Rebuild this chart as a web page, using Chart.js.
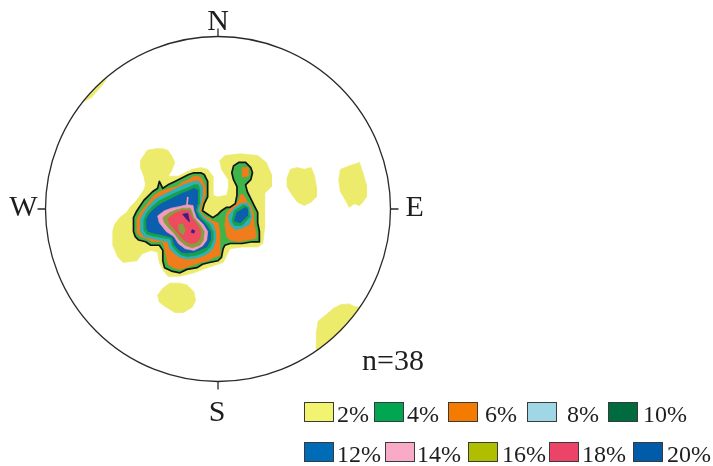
<!DOCTYPE html>
<html>
<head>
<meta charset="utf-8">
<script src="https://cdn.jsdelivr.net/npm/chart.js@4.4.1/dist/chart.umd.min.js"></script>
<style>
  html, body { margin: 0; padding: 0; background: #ffffff; }
  canvas { display: block; }
</style>
</head>
<body>
<canvas id="net" width="713" height="466"></canvas>
<script>
// Pole density contours on an equal-area net (primitive circle radius = 100 units)
const levelLabels = ['2%', '4%', '6%', '8%', '10%', '12%', '14%', '16%', '18%', '20%'];
const sampleCount = 38;

// colours used inside the net, and the key swatches
const fillColors = ['#eceb6c', '#3db54a', '#f07c1c', '#2cb3b6', '#17a04c',
                    '#0c5fae', '#f29bbd', '#8c9a40', '#ee4a60', '#3b1d8e'];
const keyColors  = ['#f2f36e', '#00a650', '#f47a00', '#a0d7e6', '#006b3f',
                    '#006cb8', '#f9aac6', '#afbf00', '#ec4468', '#005ba9'];

// 2% contours
const level2Main = [[-61,-13],[-60,-9],[-57,-5],[-53,-2],[-51,1],[-48,4],[-45,8],[-43,11],[-42,14],[-43,19],[-45,24],[-45,28],[-43,31],[-41,34],[-36,35],[-32,35],[-29,34],[-27,31],[-25,27],[-27,22],[-29,19],[-23,19],[-19,21],[-15,23],[-10,24],[-6,23],[-3,19],[-3,14],[-3,8],[0,7],[5,8],[6,12],[6,17],[2,23],[1,28],[4,31],[13,32],[23,31],[28,27],[31,20],[31,13],[27,9],[27,-1],[27,-11],[26,-20],[23,-22],[14,-22],[7,-23],[5,-27],[3,-31],[0,-32],[-6,-34],[-14,-37],[-22,-39],[-29,-39],[-32,-35],[-34,-31],[-35,-25],[-39,-24],[-44,-26],[-47,-30],[-55,-31],[-58,-28],[-61,-21]];
const level2East1 = [[42,23],[46,24],[50,23],[54,24],[56,19],[57,13],[57,7],[54,4],[50,2],[46,4],[43,8],[40,13],[40,18]];
const level2East2 = [[71,23],[76,25],[82,27],[84,21],[86,14],[86,7],[84,4],[82,2],[79,3],[76,1],[74,5],[71,10],[70,17]];
const level2South = [[-32,-46],[-28,-43],[-22,-43],[-18,-44],[-14,-48],[-13,-53],[-15,-57],[-20,-60],[-25,-60],[-30,-57],[-34,-54],[-35,-50]];
const level2RimSE = [[57,-83],[57,-72],[58,-65],[63,-61],[67,-57.5],[71,-55.5],[76,-55],[79,-56.5],[90,-58],[74,-90],[59,-88]];
const level2RimNW = [[-84,62],[-78,70],[-70,80],[-63,79],[-63.8,77],[-66.5,72.5],[-70,68.5],[-73.5,64.5],[-78.5,62]];

// 4% contour (outlined)
const level4Main = [[-49,-13],[-49,-5],[-47,-1],[-43,5],[-38,10],[-35,12],[-34,16],[-32,12],[-29,14],[-25,16],[-21,18],[-17,20],[-14,21],[-10,21],[-8,20],[-6,16],[-6,11],[-6,7],[-8,3],[-9,-1],[-6,-3],[-3,-5],[0,-3],[2,-1],[5,1],[7,1],[10,3],[11,8],[11,13],[9,17],[8,21],[9,25],[12,27],[16,27],[19,24],[20,21],[19,17],[16,14],[17,10],[19,6],[21,2],[23,-2],[23,-8],[24,-13],[24,-19],[20,-19],[14,-20],[11,-20],[7,-20],[4,-21],[3,-23],[2,-28],[0,-30],[-5,-31],[-9,-32],[-12,-34],[-18,-35],[-22,-37],[-27,-36],[-31,-34],[-32,-30],[-32,-24],[-34,-21],[-39,-21],[-42,-19],[-46,-18],[-48,-16]];

// 6% contours
const level6Main = [[-47,-14],[-47,-6],[-45,-2],[-41,3],[-37,8],[-34,10],[-31,11],[-28,12],[-24,13],[-20,16],[-17,17],[-14,19],[-11,19],[-9,17],[-7.5,13],[-7.5,8],[-9,3],[-10,-1],[-8,-4],[-6,-5],[-3,-7],[0,-8],[1,-13],[1,-21],[1,-27],[-2,-28],[-6,-30],[-10,-31],[-13,-32],[-19,-34],[-22,-35],[-26,-34],[-29,-32],[-30,-28],[-31,-23],[-32,-19],[-38,-19],[-42,-17],[-45,-16]];
const level6East = [[5,-2],[7,0],[10.5,2.5],[12,5],[13,8.5],[15,8],[16.5,5],[19,2],[20.5,-2],[21,-9],[22,-14],[22,-17],[17,-18],[12,-19],[7,-18],[5,-16],[4,-9]];
const level6Knob = [[14,24],[17.5,24],[17.5,19],[14,18.5]];

// 8% contours
const level8Main = [[-45,-13],[-45,-6],[-43,-2],[-40,2],[-36,6],[-32,8],[-28,10],[-24,12],[-20,14],[-14,16],[-11,16],[-9,13],[-9,8],[-10,3],[-11,-1],[-8,-5],[-3,-9],[-1.5,-13],[-1.5,-18],[-2.5,-22],[-5,-25],[-8,-27],[-13,-28.5],[-18,-29],[-22,-28],[-25,-26],[-28,-23],[-29,-19],[-34,-18],[-39,-17],[-43,-16]];
const level8East = [[6,-4],[9,0],[13,3],[17,3.5],[18.5,0.5],[19.5,-4.5],[18,-9],[14,-11],[10,-12],[7,-9]];

// 10% contours
const level10Main = [[-43,-12],[-43,-6],[-41,-2],[-38,1.5],[-34.5,4.5],[-30.5,6.5],[-26.5,8.5],[-22,10.5],[-18,12],[-14,14],[-11.5,14],[-10.5,11],[-10.5,7],[-11,3],[-12,-1],[-9.5,-5],[-5,-9],[-3,-13],[-3,-18],[-4.5,-22],[-7,-24.5],[-9,-25.5],[-13,-27],[-18,-27.5],[-21.5,-26.5],[-24,-24.5],[-26.5,-21.5],[-27.5,-17.5],[-33,-16.5],[-38.5,-15.5],[-41.5,-14.5]];
const level10East = [[8,-7],[9.5,-1],[15,2.5],[17.5,1],[18.5,-4.5],[14,-9.5],[9.5,-9.5]];

// 12% contours
const level12Main = [[-41.5,-11],[-41.5,-6],[-39.5,-2.5],[-36.5,0.5],[-33,3],[-29,5],[-25,7],[-21,9],[-17,10.5],[-14,12],[-12,11],[-12,7],[-12,3],[-13,-1],[-11,-5],[-7,-9],[-4.5,-13],[-4.5,-18],[-6.5,-22],[-10,-23.5],[-14,-25],[-18,-25.5],[-21,-25],[-23.5,-23],[-25.5,-20.5],[-26.5,-16.5],[-32,-15],[-37,-14],[-40.5,-13]];
const level12East = [[9.5,-7],[11,-2],[16,1],[17,0],[17,-4],[13,-8]];

// 14% contour and its narrow ridge
const level14Main = [[-35,-4],[-31,-1],[-27,0.5],[-22,1.5],[-18,2.5],[-14.5,2],[-14,-1],[-12.5,-5],[-8.5,-9],[-6,-13],[-6.5,-18],[-9,-21.5],[-14,-24],[-19,-23],[-23,-20],[-25.5,-16],[-30,-13],[-34,-8]];
const level14Ridge = [[-18,2],[-17.5,7]];

// 16% contours
const level16Main = [[-32,-5],[-28,-2],[-24,-0.5],[-20,0.5],[-16,0.5],[-15,-2],[-14,-5],[-10.5,-9],[-8,-13],[-8.5,-18],[-10.5,-21],[-15,-22.5],[-19,-21],[-22.5,-18],[-25.5,-14],[-28.5,-11],[-31,-8]];
const level16Hole = [[-23,-9],[-20.5,-8.5],[-19,-12],[-20,-15],[-22.5,-13]];

// 18% contour
const level18Main = [[-29,-5.5],[-25,-2.5],[-21,-1],[-16.5,-1],[-15.5,-4.5],[-12,-9],[-10,-13],[-10.5,-17],[-12.5,-19.5],[-16,-20],[-19,-18.5],[-22,-15.5],[-25,-12],[-28,-8.5]];

// 20% maxima
const level20Main = [[-20.5,-3],[-17.5,-2.5],[-16.5,-7.5],[-18.5,-5.5]];
const level20Spot = [[-15,-12],[-13.5,-12.5],[-14,-14],[-15.5,-13.5]];

// draw order, bottom to top: [polygon, level index, kind]
const layers = [
  [level2Main, 0], [level2East1, 0], [level2East2, 0], [level2South, 0], [level2RimSE, 0], [level2RimNW, 0],
  [level4Main, 1, 'outline'],
  [level6Main, 2], [level6East, 2], [level6Knob, 2],
  [level8Main, 3], [level8East, 3],
  [level10Main, 4], [level10East, 4],
  [level12Main, 5], [level12East, 5],
  [level14Main, 6], [level14Ridge, 6, 'ridge'],
  [level16Main, 7],
  [level18Main, 8],
  [level16Hole, 7],
  [level20Main, 9], [level20Spot, 9]
];

function toPoints(poly, close) {
  const pts = poly.map(([x, y]) => ({ x, y }));
  if (close) pts.push({ x: poly[0][0], y: poly[0][1] });
  return pts;
}

const datasets = layers.map(([poly, lvl, kind]) => {
  const col = fillColors[lvl];
  if (kind === 'ridge') {
    return { data: toPoints(poly, false), fill: false, borderColor: col, borderWidth: 1.6,
             pointRadius: 0, tension: 0 };
  }
  return {
    data: toPoints(poly, true),
    fill: 'shape',
    backgroundColor: col,
    borderColor: kind === 'outline' ? '#141414' : col,
    borderWidth: kind === 'outline' ? 1.7 : 0.7,
    borderJoinStyle: 'round',
    pointRadius: 0,
    tension: 0
  };
}).reverse(); // first dataset is painted last

const netFrame = {
  id: 'netFrame',
  beforeDatasetsDraw(chart) {
    const { ctx, scales: { x, y } } = chart;
    const cx = x.getPixelForValue(0), cy = y.getPixelForValue(0);
    const r = x.getPixelForValue(100) - cx;
    ctx.save();
    ctx.beginPath();
    ctx.arc(cx, cy, r, 0, Math.PI * 2);
    ctx.clip();
  },
  afterDatasetsDraw(chart) {
    const { ctx, scales: { x, y } } = chart;
    ctx.restore();
    const cx = x.getPixelForValue(0), cy = y.getPixelForValue(0);
    const r = x.getPixelForValue(100) - cx;
    const tick = 8;

    ctx.save();
    ctx.strokeStyle = '#2a2a2a';
    ctx.lineWidth = 1.3;
    ctx.beginPath();
    ctx.arc(cx, cy, r, 0, Math.PI * 2);
    ctx.stroke();

    ctx.beginPath();
    ctx.moveTo(cx, cy - r); ctx.lineTo(cx, cy - r - tick);
    ctx.moveTo(cx, cy + r); ctx.lineTo(cx, cy + r + tick);
    ctx.moveTo(cx - r, cy); ctx.lineTo(cx - r - tick, cy);
    ctx.moveTo(cx + r, cy); ctx.lineTo(cx + r + tick, cy);
    ctx.stroke();

    // compass letters
    ctx.fillStyle = '#1e1e1e';
    ctx.font = '30px "Liberation Serif", "Times New Roman", serif';
    ctx.textBaseline = 'alphabetic';
    ctx.textAlign = 'center';
    ctx.fillText('N', cx, cy - r - tick + 1);
    ctx.fillText('S', cx - 1, cy + r + tick + 31);
    ctx.textAlign = 'right';
    ctx.fillText('W', cx - r - tick, cy + 7);
    ctx.textAlign = 'left';
    ctx.fillText('E', cx + r + tick + 7, cy + 7);

    // sample size
    ctx.font = '30px "Liberation Serif", "Times New Roman", serif';
    ctx.fillText('n=' + sampleCount, 362, 370);

    // key
    const rows = [
      { top: 402, items: [[304, 337], [374, 407], [448, 485], [527, 567], [608, 643]] },
      { top: 442, items: [[304, 337], [385, 417], [468, 502], [549, 582], [633, 667]] }
    ];
    ctx.font = '24px "Liberation Serif", "Times New Roman", serif';
    ctx.lineWidth = 1;
    ctx.strokeStyle = '#3a3a3a';
    let k = 0;
    rows.forEach(row => {
      row.items.forEach(([bx, tx]) => {
        ctx.fillStyle = keyColors[k];
        ctx.fillRect(bx, row.top, 30, 20);
        ctx.strokeRect(bx + 0.5, row.top + 0.5, 29, 19);
        ctx.fillStyle = '#1e1e1e';
        ctx.fillText(levelLabels[k], tx, row.top + 20);
        k++;
      });
    });
    ctx.restore();
  }
};

new Chart(document.getElementById('net'), {
  type: 'line',
  data: { datasets },
  options: {
    responsive: false,
    animation: false,
    events: [],
    layout: { padding: { left: 45.5, top: 36.5, right: 322.5, bottom: 84.5 } },
    scales: {
      x: { type: 'linear', min: -100, max: 100, display: false },
      y: { type: 'linear', min: -100, max: 100, display: false }
    },
    plugins: { legend: { display: false }, tooltip: { enabled: false } }
  },
  plugins: [netFrame]
});
</script>
</body>
</html>
